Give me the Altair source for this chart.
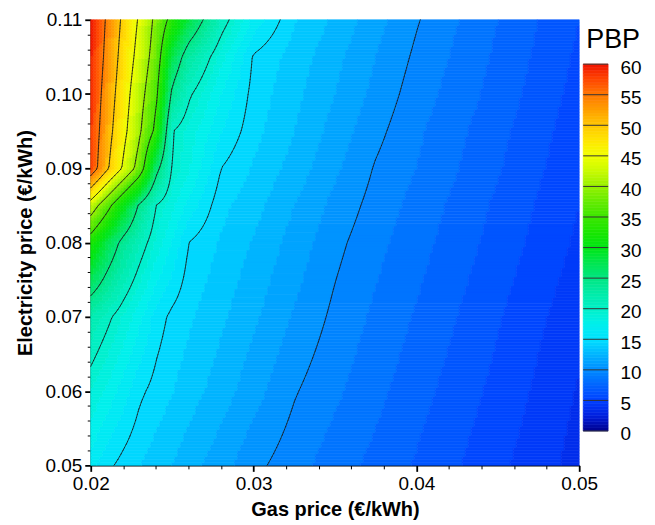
import numpy as np
import pandas as pd
import altair as alt

FONT = "Liberation Sans"

# ---- data: PBP at grid nodes ----
gas_nodes = [0.020, 0.021, 0.022, 0.023, 0.024, 0.025, 0.026, 0.028, 0.030,
             0.0325, 0.035, 0.0375, 0.040, 0.045, 0.050]
elec_nodes = [0.05, 0.06, 0.07, 0.08, 0.085, 0.09, 0.095, 0.10, 0.105, 0.11]

pbp_e050 = [16.5, 15.3, 14.6, 14.0, 13.5, 13.0, 12.4, 11.4, 10.3, 9.4, 8.5, 7.7, 6.9, 5.25, 3.6]
pbp_e060 = [19.0, 17.75, 16.5, 15.25, 14.6, 14.05, 13.5, 12.5, 11.4, 10.1, 9.2, 8.3, 7.4, 5.7, 3.9]
pbp_e070 = [22.0, 20.5, 18.9, 17.3, 15.6, 14.7, 14.2, 13.2, 12.2, 10.9, 9.75, 8.8, 7.9, 6.1, 4.3]
pbp_e080 = [32.6, 27.85, 23.9, 21.1, 18.8, 16.9, 15.0, 13.9, 12.9, 11.6, 10.3, 9.3, 8.4, 6.6, 4.8]
pbp_e085 = [42.8, 36.7, 30.4, 24.4, 20.0, 18.3, 16.7, 14.3, 13.4, 12.0, 10.7, 9.6, 8.65, 6.8, 5.0]
pbp_e090 = [58.0, 50.7, 44.4, 37.9, 26.4, 19.8, 18.2, 15.0, 13.9, 12.6, 11.2, 9.9, 9.0, 7.1, 5.2]
pbp_e095 = [58.5, 51.9, 46.3, 40.6, 33.9, 20.1, 18.7, 16.05, 14.35, 13.0, 11.6, 10.3, 9.2, 7.3, 5.4]
pbp_e100 = [59.0, 52.8, 47.25, 41.8, 36.1, 24.2, 20.4, 17.0, 14.6, 13.3, 12.0, 10.7, 9.5, 7.6, 5.6]
pbp_e105 = [59.5, 53.75, 48.2, 43.3, 37.8, 27.9, 23.1, 18.5, 14.85, 13.6, 12.3, 11.0, 9.8, 7.8, 5.8]
pbp_e110 = [60.0, 54.4, 49.1, 44.4, 38.9, 33.4, 28.2, 21.1, 16.7, 14.1, 12.8, 11.4, 10.1, 8.0, 6.0]
pbp_rows = [pbp_e050, pbp_e060, pbp_e070, pbp_e080, pbp_e085,
            pbp_e090, pbp_e095, pbp_e100, pbp_e105, pbp_e110]

contour_levels = [10, 15, 20, 25, 35, 40, 45, 50, 55]

x_major = [0.02, 0.03, 0.04, 0.05]
y_major = [0.05, 0.06, 0.07, 0.08, 0.09, 0.10, 0.11]
legend_ticks = [0, 5, 10, 15, 20, 25, 30, 35, 40, 45, 50, 55, 60]

cmap_values = [0, 2.5, 5, 7.5, 10, 12.5, 15, 17.5, 20, 22.5, 25, 27.5, 30,
               32.5, 35, 37.5, 40, 42.5, 45, 47.5, 50, 52.5, 55, 57.5, 60]
cmap_colors = ["#00008c", "#0020e0", "#0040ff", "#0064ff", "#008cff", "#00b4ff",
               "#00e0ff", "#00f0ec", "#00f0c8", "#00eba8", "#00e682", "#00e650",
               "#00e614", "#18e600", "#3ce600", "#64eb00", "#96f000", "#c8fa00",
               "#f0ff00", "#ffe600", "#ffc800", "#ffa000", "#ff7800", "#ff4600",
               "#f01400"]

# ---- build tables for the library ----
G = np.array(gas_nodes)
E = np.array(elec_nodes)
Z = np.array(pbp_rows)


def field(xs, ys):
    tmp = np.array([np.interp(xs, G, row) for row in Z])
    return np.array([np.interp(ys, E, tmp[:, i]) for i in range(len(xs))]).T


NX, NY = 163, 149
xe = np.linspace(G[0], G[-1], NX + 1)
ye = np.linspace(E[0], E[-1], NY + 1)
xc = (xe[:-1] + xe[1:]) / 2
yc = (ye[:-1] + ye[1:]) / 2
Vc = field(xc, yc)
Vn = field(xe, ye)

# flood bands (step 1), merged into horizontal runs
rects = []
for j in range(NY):
    q = np.minimum(np.floor(Vc[j]) + 0.5, 59.5)
    start = 0
    for i in range(1, NX + 1):
        if i == NX or q[i] != q[start]:
            rects.append({"gas": round(float(xe[start]), 7), "gas2": round(float(xe[i]), 7),
                          "elec": round(float(ye[j]), 7), "elec2": round(float(ye[j + 1]), 7),
                          "v": float(q[start])})
            start = i
rect_df = pd.DataFrame(rects)

# contour line segments (marching squares)
segs = []
for L in contour_levels:
    Lv = L + 1e-9
    for j in range(NY):
        for i in range(NX):
            c = [(xe[i], ye[j], Vn[j, i]), (xe[i + 1], ye[j], Vn[j, i + 1]),
                 (xe[i + 1], ye[j + 1], Vn[j + 1, i + 1]), (xe[i], ye[j + 1], Vn[j + 1, i])]
            pts = []
            for k in range(4):
                x0, y0, v0 = c[k]
                x1, y1, v1 = c[(k + 1) % 4]
                if (v0 - Lv) * (v1 - Lv) < 0:
                    t = (Lv - v0) / (v1 - v0)
                    pts.append((x0 + t * (x1 - x0), y0 + t * (y1 - y0)))
            for a in range(0, len(pts) - 1, 2):
                segs.append({"gas": float(pts[a][0]), "elec": float(pts[a][1]),
                             "gas2": float(pts[a + 1][0]), "elec2": float(pts[a + 1][1])})
seg_df = pd.DataFrame(segs)

x_ticks = [round(v, 4) for v in np.arange(0.020, 0.0501, 0.002)]
y_ticks = [round(v, 4) for v in np.arange(0.050, 0.1101, 0.002)]

major_test = "abs(datum.value*100 - round(datum.value*100)) < 0.001"
label_expr = f"{major_test} ? format(datum.value, '.2f') : ''"

common_axis = dict(
    grid=False, labelOverlap=False, labelFlush=False, labelFont=FONT, labelFontSize=19,
    labelColor="black", domainColor="black", domainWidth=1.5, tickColor="black",
    tickSize={"condition": {"test": major_test, "value": 6}, "value": 3.5},
    tickWidth={"condition": {"test": major_test, "value": 1.8}, "value": 1},
    titleFont=FONT, titleFontSize=20, titleFontWeight="bold", titleColor="black",
    labelExpr=label_expr,
)

x_enc = alt.X("gas:Q", scale=alt.Scale(domain=[0.02, 0.05], nice=False, zero=False),
              axis=alt.Axis(values=x_ticks, title="Gas price (€/kWh)", labelPadding=3,
                            titlePadding=6, **common_axis))
y_enc = alt.Y("elec:Q", scale=alt.Scale(domain=[0.05, 0.11], nice=False, zero=False),
              axis=alt.Axis(values=y_ticks, title="Electricity price (€/kWh)", labelPadding=3,
                            titlePadding=9, **common_axis))

cscale = alt.Scale(domain=cmap_values, range=cmap_colors, clamp=True, interpolate="rgb")

flood = alt.Chart(rect_df).mark_rect(strokeWidth=0.6).encode(
    x=x_enc, x2="gas2:Q", y=y_enc, y2="elec2:Q",
    fill=alt.Fill("v:Q", scale=cscale, legend=None),
    stroke=alt.Stroke("v:Q", scale=cscale, legend=None),
)
lines = alt.Chart(seg_df).mark_rule(color="#1a1a1a", strokeWidth=0.8, strokeCap="round").encode(
    x=x_enc, x2="gas2:Q", y=y_enc, y2="elec2:Q",
)
main = alt.layer(flood, lines).properties(width=490, height=447)

# ---- colour bar ----
cb_lo = [i * 0.5 for i in range(120)]
cb_df = pd.DataFrame({"lo": cb_lo, "hi": [v + 0.5 for v in cb_lo], "mid": [v + 0.25 for v in cb_lo]})
cb_scale = alt.Scale(domain=[-5.625, 67.26], nice=False, zero=False)
cb_axis = alt.Axis(orient="right", values=legend_ticks, ticks=False, domain=False,
                   grid=False, title=None, labelFont=FONT, labelFontSize=19,
                   labelColor="black", labelPadding=12, labelOffset=3,
                   labelOverlap=False, labelBound=False, format="d")

cb_bar = alt.Chart(cb_df).mark_rect(strokeWidth=0.6).encode(
    x=alt.value(0), x2=alt.value(25),
    y=alt.Y("lo:Q", scale=cb_scale, axis=cb_axis),
    y2="hi:Q",
    fill=alt.Fill("mid:Q", scale=cscale, legend=None),
    stroke=alt.Stroke("mid:Q", scale=cscale, legend=None),
)
cb_lines = alt.Chart(pd.DataFrame({"lo": legend_ticks})).mark_rule(color="#333333", strokeWidth=1).encode(
    x=alt.value(0), x2=alt.value(25), y=alt.Y("lo:Q", scale=cb_scale, axis=cb_axis),
)
cb_title = alt.Chart(pd.DataFrame({"t": ["PBP"]})).mark_text(
    align="left", baseline="middle", font=FONT, fontSize=27, color="black"
).encode(x=alt.value(3), y=alt.value(20), text="t:N")

colorbar = alt.layer(cb_bar, cb_lines, cb_title).properties(width=25, height=447)

chart = alt.hconcat(main, colorbar, spacing=4, bounds="flush").properties(
    padding={"left": 8, "top": 2, "right": 5, "bottom": 0}
).configure_view(stroke=None)

chart.save("out.html", embed_options={"renderer": "svg", "actions": False})
